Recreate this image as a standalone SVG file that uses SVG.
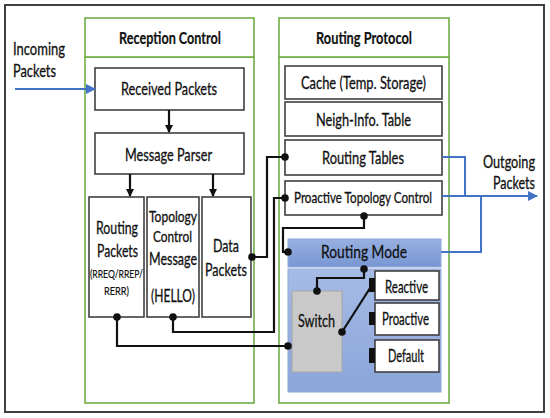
<svg xmlns="http://www.w3.org/2000/svg" width="550" height="418" viewBox="0 0 550 418">
<defs>
<style>
text{font-family:Lato,"Liberation Sans",sans-serif;fill:#111;text-anchor:middle;stroke:#111;stroke-width:0.3}
.t{font-size:17px}
.s{font-size:15px}
.h{font-size:17.5px;font-weight:bold;stroke-width:0.2}
.box{fill:#fff;stroke:#404040;stroke-width:1.6}
.grp{fill:#fff;stroke:#70AD47;stroke-width:1.6}
.k{fill:none;stroke:#111;stroke-width:2.2}
.b{fill:none;stroke:#4472C4;stroke-width:2}
.d{fill:#111}
</style>
<linearGradient id="gh" x1="0" y1="0" x2="0" y2="1"><stop offset="0" stop-color="#98B0E0"/><stop offset="1" stop-color="#7896D4"/></linearGradient>
<linearGradient id="gb" x1="0" y1="0" x2="0" y2="1"><stop offset="0" stop-color="#A6BBE6"/><stop offset="1" stop-color="#8BA5DA"/></linearGradient>
<marker id="ak" markerWidth="8" markerHeight="8" refX="7" refY="4" orient="auto" markerUnits="userSpaceOnUse"><path d="M0,0 L8,4 L0,8 z" fill="#111"/></marker>
<marker id="ab" markerWidth="10" markerHeight="10" refX="9" refY="5" orient="auto" markerUnits="userSpaceOnUse"><path d="M0,0 L10,5 L0,10 z" fill="#4472C4"/></marker>
</defs>
<rect x="0" y="0" width="550" height="418" fill="#fff"/>
<rect x="5" y="5" width="539" height="407" fill="#fff" stroke="#404040" stroke-width="2"/>

<g id="reception-control">
<rect class="grp" x="85" y="57" width="169" height="346"/>
<rect class="grp" x="85" y="18" width="169" height="39"/>
<text class="h" x="170" y="44" textLength="102" lengthAdjust="spacingAndGlyphs">Reception Control</text>
</g>
<g id="routing-protocol">
<rect class="grp" x="279" y="57" width="170" height="346"/>
<rect class="grp" x="279" y="18" width="170" height="39"/>
<text class="h" x="364" y="44" textLength="96" lengthAdjust="spacingAndGlyphs">Routing Protocol</text>
</g>

<g id="received-packets"><rect class="box" x="95" y="68" width="149" height="42"/><text class="t" x="169" y="95" textLength="96" lengthAdjust="spacingAndGlyphs">Received Packets</text></g>
<g id="message-parser"><rect class="box" x="95" y="133" width="149" height="41"/><text class="t" x="168.5" y="161" textLength="87" lengthAdjust="spacingAndGlyphs">Message Parser</text></g>
<g id="routing-packets"><rect class="box" x="89" y="197" width="55" height="120"/>
<text class="t" x="117" y="234" textLength="42" lengthAdjust="spacingAndGlyphs">Routing</text>
<text class="t" x="117.5" y="257" textLength="41" lengthAdjust="spacingAndGlyphs">Packets</text>
<text x="116.5" y="278" style="font-size:12px;stroke-width:0.2" textLength="53" lengthAdjust="spacingAndGlyphs">(RREQ/RREP/</text>
<text x="116.5" y="295" style="font-size:12px;stroke-width:0.2" textLength="25" lengthAdjust="spacingAndGlyphs">RERR)</text></g>
<g id="topology-control"><rect class="box" x="147" y="197" width="52" height="120"/>
<text class="s" x="173" y="222" textLength="48" lengthAdjust="spacingAndGlyphs">Topology</text>
<text class="s" x="172.5" y="242" textLength="39" lengthAdjust="spacingAndGlyphs">Control</text>
<text class="t" x="173" y="265" textLength="48" lengthAdjust="spacingAndGlyphs">Message</text>
<text class="t" x="173" y="302" textLength="44" lengthAdjust="spacingAndGlyphs">(HELLO)</text></g>
<g id="data-packets"><rect class="box" x="202" y="197" width="49" height="120"/>
<text class="t" x="226" y="252" textLength="26" lengthAdjust="spacingAndGlyphs">Data</text>
<text class="t" x="226" y="276" textLength="42" lengthAdjust="spacingAndGlyphs">Packets</text></g>

<g id="cache"><rect class="box" x="285" y="66" width="157" height="33"/><text class="t" x="363.5" y="89" textLength="125" lengthAdjust="spacingAndGlyphs">Cache (Temp. Storage)</text></g>
<g id="neigh-info"><rect class="box" x="285" y="102" width="157" height="34"/><text class="t" x="363.5" y="126" textLength="95" lengthAdjust="spacingAndGlyphs">Neigh-Info. Table</text></g>
<g id="routing-tables"><rect class="box" x="285" y="140" width="157" height="35"/><text class="t" x="363" y="164" textLength="82" lengthAdjust="spacingAndGlyphs">Routing Tables</text></g>
<g id="proactive-topology-control"><rect class="box" x="285" y="181" width="157" height="34"/><text class="s" x="363" y="203" textLength="138" lengthAdjust="spacingAndGlyphs">Proactive Topology Control</text></g>
<g id="routing-mode">
<rect x="288" y="239" width="153" height="28" fill="url(#gh)" stroke="#8FA8DA" stroke-width="1"/>
<text x="364" y="258" style="font-size:18px" textLength="86" lengthAdjust="spacingAndGlyphs">Routing Mode</text>
<rect x="288" y="269" width="153" height="123" fill="url(#gb)" stroke="#8FA8DA" stroke-width="1"/>
</g>
<g id="switch"><rect x="292" y="291" width="50" height="81" fill="#C9C9C9" stroke="#A6A6A6" stroke-width="1"/><text class="t" x="316.5" y="327" textLength="37" lengthAdjust="spacingAndGlyphs">Switch</text></g>
<g id="reactive"><rect class="box" x="375" y="271" width="64" height="29"/><rect x="369" y="278" width="6" height="14" fill="#111"/><text class="t" x="406.5" y="293" textLength="43" lengthAdjust="spacingAndGlyphs">Reactive</text></g>
<g id="proactive"><rect class="box" x="375" y="303" width="64" height="32"/><rect x="369" y="312" width="6" height="13" fill="#111"/><text class="t" x="405.5" y="325" textLength="47" lengthAdjust="spacingAndGlyphs">Proactive</text></g>
<g id="default"><rect class="box" x="375" y="340" width="64" height="32"/><rect x="369" y="348" width="6" height="15" fill="#111"/><text class="t" x="406" y="362" textLength="36" lengthAdjust="spacingAndGlyphs">Default</text></g>

<g id="labels">
<text class="t" x="13" y="55" style="text-anchor:start" textLength="52" lengthAdjust="spacingAndGlyphs">Incoming</text>
<text class="t" x="13" y="77" style="text-anchor:start" textLength="43" lengthAdjust="spacingAndGlyphs">Packets</text>
<text class="t" x="483" y="168" style="text-anchor:start" textLength="52" lengthAdjust="spacingAndGlyphs">Outgoing</text>
<text class="t" x="493" y="189" style="text-anchor:start" textLength="42" lengthAdjust="spacingAndGlyphs">Packets</text>
</g>

<g id="connectors">
<line class="k" x1="169" y1="110" x2="169" y2="132" marker-end="url(#ak)"/>
<line class="k" x1="130" y1="174" x2="130" y2="196" marker-end="url(#ak)"/>
<line class="k" x1="213" y1="174" x2="213" y2="196" marker-end="url(#ak)"/>
<polyline class="k" points="252,257 267,257 267,157 285,157"/>
<polyline class="k" points="173,317 173,332 274,332 274,198 285,198"/>
<polyline class="k" points="117,317 117,346 288,346"/>
<polyline class="k" points="364,216 364,228 283,228 283,252 288,252"/>
<polyline class="k" points="364,269 364,278 317,278 317,291"/>
<line class="k" x1="342" y1="332" x2="372" y2="285"/>
<circle class="d" cx="252" cy="257" r="3.8"/><circle class="d" cx="285" cy="157" r="3.8"/>
<circle class="d" cx="173" cy="317" r="3.8"/><circle class="d" cx="285" cy="198" r="3.8"/>
<circle class="d" cx="117" cy="317" r="3.8"/><circle class="d" cx="288" cy="346" r="3.8"/>
<circle class="d" cx="364" cy="216" r="3.8"/><circle class="d" cx="288" cy="252" r="3.8"/>
<circle class="d" cx="364" cy="269" r="3.8"/><circle class="d" cx="317" cy="291" r="3.8"/>
<circle class="d" cx="342" cy="332" r="3.8"/>
<line class="b" x1="15" y1="89" x2="95" y2="89" marker-end="url(#ab)"/>
<polyline class="b" points="442,157 465,157 465,196"/>
<polyline class="b" points="441,252 481,252 481,196"/>
<line class="b" x1="442" y1="196" x2="537" y2="196" marker-end="url(#ab)"/>
</g>
</svg>
